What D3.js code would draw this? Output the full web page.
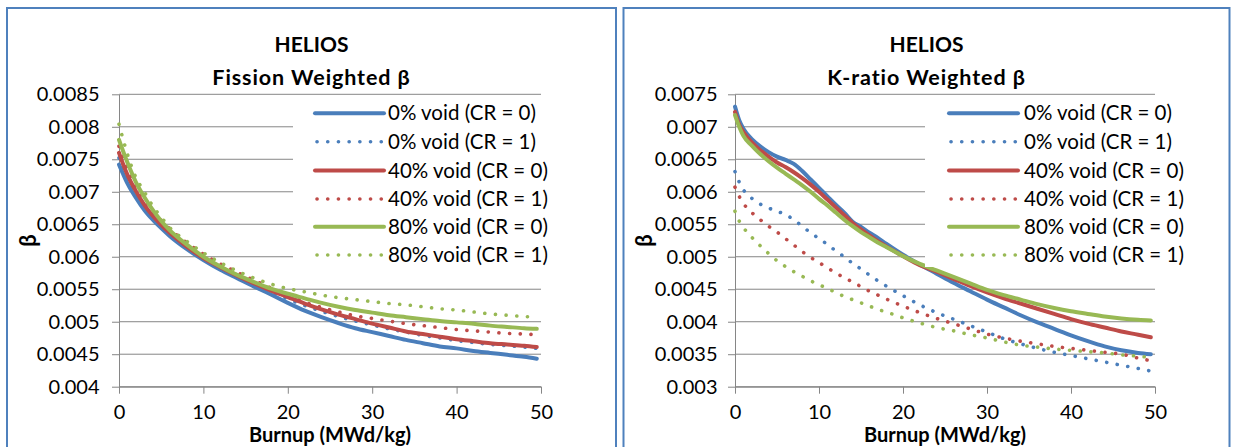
<!DOCTYPE html>
<html><head><meta charset="utf-8">
<script src="https://cdn.jsdelivr.net/npm/d3@7"></script>
<style>
body{margin:0;background:#fff}
svg{display:block}
text{font-family:Lato,"Open Sans",sans-serif;fill:#000}
</style>
</head><body>
<svg id="chart" width="1233" height="447"></svg>
<script>
// ---------- DATA ----------
const seriesLabels = ["0% void (CR = 0)","0% void (CR = 1)","40% void (CR = 0)","40% void (CR = 1)","80% void (CR = 0)","80% void (CR = 1)"];
const xTicks = [0,10,20,30,40,50];

// Fission weighted beta
const burnupFission = [0,0.5,1,2,3,4,5,6,8,10,12,14,16,18,20,22,24,26,28,30,32,34,36,38,40,42,44,46,48,49.5];
const fission0cr0  = [.00742,.00727,.00713,.00691,.00672,.00657,.00644,.00632,.00612,.00595,.00580,.00567,.00554,.00542,.00529,.00517,.00507,.00498,.00490,.00484,.00478,.00472,.00467,.00462,.00459,.00455,.00452,.00449,.00446,.00443];
const fission0cr1  = [.00752,.00736,.00721,.00697,.00677,.00661,.00648,.00636,.00615,.00597,.00582,.00569,.00557,.00546,.00535,.00525,.00516,.00508,.00501,.00495,.00489,.00484,.00479,.00475,.00471,.00468,.00465,.00463,.00461,.00459];
const fission40cr0 = [.00760,.00742,.00726,.00701,.00680,.00663,.00649,.00637,.00616,.00598,.00584,.00571,.00559,.00548,.00538,.00528,.00519,.00511,.00504,.00497,.00491,.00485,.00481,.00477,.00473,.00470,.00467,.00465,.00463,.00461];
const fission40cr1 = [.00770,.00752,.00736,.00710,.00689,.00671,.00656,.00643,.00622,.00604,.00589,.00576,.00564,.00552,.00541,.00530,.00522,.00515,.00509,.00505,.00501,.00497,.00494,.00491,.00488,.00486,.00484,.00482,.00481,.00480];
const fission80cr0 = [.00780,.00762,.00745,.00715,.00692,.00672,.00655,.00641,.00619,.00600,.00585,.00572,.00561,.00551,.00543,.00536,.00529,.00523,.00518,.00514,.00510,.00507,.00504,.00501,.00499,.00497,.00494,.00492,.00490,.00489];
const fission80cr1 = [.00804,.00780,.00758,.00722,.00700,.00678,.00661,.00645,.00624,.00606,.00591,.00578,.00567,.00558,.00551,.00546,.00541,.00537,.00534,.00531,.00528,.00526,.00523,.00520,.00518,.00515,.00512,.00510,.00508,.00507];
const yTicksFission = [0.004,0.0045,0.005,0.0055,0.006,0.0065,0.007,0.0075,0.008,0.0085];
const yLabelsFission = ["0.004","0.0045","0.005","0.0055","0.006","0.0065","0.007","0.0075","0.008","0.0085"];

// K-ratio weighted beta
const burnupKratio = [0,0.5,1,2,3,4,5,6,7,8,9,10,11,12,13,14,15,16,17,18,20,22,24,26,28,30,32,34,36,38,40,42,44,46,48,49.5];
const kratio0cr0  = [.00731,.00710,.00697,.00681,.00670,.00661,.00654,.00649,.00643,.00632,.00619,.00606,.00593,.00580,.00568,.00554,.00546,.00537,.00529,.00520,.00503,.00488,.00474,.00460,.00447,.00434,.00422,.00410,.00399,.00389,.00379,.00370,.00362,.00356,.00352,.00350];
const kratio0cr1  = [.00631,.00615,.00603,.00590,.00581,.00575,.00570,.00565,.00557,.00547,.00537,.00528,.00519,.00509,.00500,.00490,.00481,.00472,.00463,.00455,.00440,.00426,.00414,.00404,.00394,.00384,.00374,.00366,.00359,.00353,.00348,.00343,.00338,.00333,.00328,.00324];
const kratio40cr0 = [.00723,.00703,.00692,.00676,.00664,.00654,.00645,.00638,.00630,.00621,.00611,.00600,.00588,.00576,.00564,.00552,.00542,.00533,.00524,.00516,.00501,.00487,.00477,.00466,.00455,.00445,.00436,.00428,.00420,.00412,.00404,.00397,.00391,.00385,.00380,.00376];
const kratio40cr1 = [.00607,.00593,.00582,.00568,.00557,.00547,.00538,.00528,.00518,.00508,.00499,.00491,.00483,.00475,.00468,.00461,.00454,.00447,.00441,.00435,.00424,.00414,.00405,.00397,.00389,.00381,.00375,.00370,.00366,.00362,.00359,.00356,.00353,.00350,.00344,.00340];
const kratio80cr0 = [.00718,.00700,.00686,.00671,.00658,.00647,.00637,.00628,.00619,.00610,.00600,.00589,.00579,.00568,.00557,.00547,.00538,.00530,.00522,.00515,.00501,.00489,.00479,.00469,.00459,.00449,.00441,.00434,.00427,.00421,.00416,.00412,.00408,.00405,.00403,.00402];
const kratio80cr1 = [.00570,.00555,.00545,.00530,.00517,.00505,.00494,.00485,.00477,.00470,.00463,.00457,.00451,.00445,.00439,.00434,.00429,.00424,.00419,.00415,.00406,.00398,.00391,.00386,.00380,.00375,.00369,.00364,.00361,.00358,.00356,.00354,.00352,.00349,.00347,.00345];
const yTicksKratio = [0.003,0.0035,0.004,0.0045,0.005,0.0055,0.006,0.0065,0.007,0.0075];
const yLabelsKratio = ["0.003","0.0035","0.004","0.0045","0.005","0.0055","0.006","0.0065","0.007","0.0075"];

// ---------- STYLE / LAYOUT ----------
const colors = ["#4a7ebb","#4a7ebb","#be4b48","#be4b48","#98b954","#98b954"];
const dotted = [false,true,false,true,false,true];
const gridColor = "#868686";
const borderColor = "#4f81bd";

const panels = [
  {title1:"HELIOS", title2:"Fission Weighted β", burnup:burnupFission,
   values:[fission0cr0,fission0cr1,fission40cr0,fission40cr1,fission80cr0,fission80cr1],
   yTicks:yTicksFission, yLabels:yLabelsFission,
   border:{x:7,w:609}, plot:{x0:119,x1:541,y0:94.3,y1:386.7},
   legend:{boxX:293, boxW:260, lineX1:315, lineX2:384, textX:388},
   betaX:28, yPad:12.5},
  {title1:"HELIOS", title2:"K-ratio Weighted β", burnup:burnupKratio,
   values:[kratio0cr0,kratio0cr1,kratio40cr0,kratio40cr1,kratio80cr0,kratio80cr1],
   yTicks:yTicksKratio, yLabels:yLabelsKratio,
   border:{x:623.5,w:606}, plot:{x0:735,x1:1155,y0:94.3,y1:386.7},
   legend:{boxX:925, boxW:260, lineX1:949, lineX2:1018, textX:1024},
   betaX:644, yPad:10.5}
];
const legendRowY = [113.3,141.7,170.5,199,226.8,255];

const svg = d3.select("#chart");
svg.append("rect").attr("width",1233).attr("height",447).attr("fill","#fff");

panels.forEach(p => {
  const g = svg.append("g");
  g.append("rect").attr("x",p.border.x).attr("y",8).attr("width",p.border.w).attr("height",480)
    .attr("fill","none").attr("stroke",borderColor).attr("stroke-width",2);

  const x = d3.scaleLinear().domain(d3.extent(xTicks)).range([p.plot.x0,p.plot.x1]);
  const y = d3.scaleLinear().domain(d3.extent(p.yTicks)).range([p.plot.y1,p.plot.y0]);

  g.append("g").selectAll("line").data(p.yTicks).join("line")
    .attr("x1",p.plot.x0).attr("x2",p.plot.x1)
    .attr("y1",d=>y(d)).attr("y2",d=>y(d))
    .attr("stroke",gridColor).attr("stroke-width",1);

  const yAxis = g.append("g").attr("transform",`translate(${p.plot.x0},0)`)
    .call(d3.axisLeft(y).tickValues(p.yTicks).tickFormat((d,i)=>p.yLabels[i]).tickSize(7).tickSizeOuter(0).tickPadding(p.yPad));
  const xAxis = g.append("g").attr("transform",`translate(0,${p.plot.y1})`)
    .call(d3.axisBottom(x).tickValues(xTicks).tickFormat(d3.format("d")).tickSize(7).tickSizeOuter(0).tickPadding(11));
  [yAxis,xAxis].forEach(a=>{
    a.selectAll("path,line").attr("stroke",gridColor).attr("stroke-width",1);
    a.selectAll("text").attr("font-size",20).attr("font-family","Lato, 'Open Sans', sans-serif").attr("fill","#000");
  });

  const line = d3.line().x((d,i)=>x(p.burnup[i])).y(d=>y(d)).curve(d3.curveMonotoneX);
  p.values.forEach((vals,k)=>{
    g.append("path").attr("d",line(vals)).attr("fill","none")
      .attr("stroke",colors[k])
      .attr("stroke-width",dotted[k]?3.6:4)
      .attr("stroke-linecap","round").attr("stroke-linejoin","round")
      .attr("stroke-dasharray",dotted[k]?"0.1 10.6":null);
  });

  g.append("rect").attr("x",p.legend.boxX).attr("y",98).attr("width",p.legend.boxW).attr("height",169).attr("fill","#fff");
  seriesLabels.forEach((lab,k)=>{
    const yy = legendRowY[k];
    g.append("line")
      .attr("x1",p.legend.lineX1 + (dotted[k]?2:0)).attr("x2",p.legend.lineX2 - (dotted[k]?1:0))
      .attr("y1",yy).attr("y2",yy)
      .attr("stroke",colors[k]).attr("stroke-width",dotted[k]?3.6:4)
      .attr("stroke-linecap","round")
      .attr("stroke-dasharray",dotted[k]?"0.1 10.6":null);
    g.append("text").attr("x",p.legend.textX).attr("y",yy).attr("dy","0.35em")
      .attr("font-size",20.5).text(lab);
  });

  const cx = p.border.x + p.border.w/2;
  g.append("text").attr("x",cx).attr("y",51.5).attr("text-anchor","middle")
    .attr("font-size",21).attr("font-weight","bold").text(p.title1);
  g.append("text").attr("x",cx).attr("y",84.5).attr("text-anchor","middle")
    .attr("font-size",21.5).attr("font-weight","bold").attr("letter-spacing",0.9).text(p.title2);
  g.append("text").attr("x",(p.plot.x0+p.plot.x1)/2).attr("y",441.5).attr("text-anchor","middle")
    .attr("font-size",20).attr("font-weight","bold").text("Burnup (MWd/kg)");
  g.append("text").attr("transform",`translate(${p.betaX},${(p.plot.y0+p.plot.y1)/2}) rotate(-90)`)
    .attr("text-anchor","middle").attr("dy","0.35em")
    .attr("font-size",22).attr("font-weight","bold").text("β");
});
</script>
</body></html>
